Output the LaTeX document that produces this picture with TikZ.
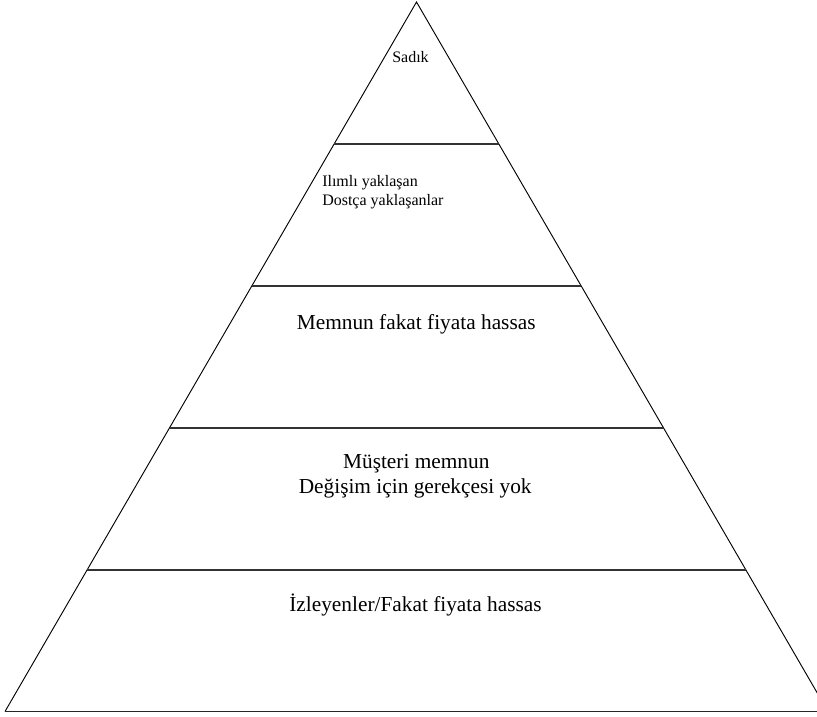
\documentclass[tikz,border=0pt]{standalone}
\usepackage{fontspec}
\setmainfont{Liberation Serif}
\usetikzlibrary{calc}
\begin{document}
\begin{tikzpicture}[x=0.75pt,y=-0.75pt,
  side/.style={line width=0.7pt,black},
  tier/.style={line width=1.5pt,black!80},
  basestyle/.style={line width=1.2pt,black!85},
  small/.style={font=\fontsize{12}{14.25}\selectfont,anchor=base,inner sep=0pt},
  big/.style={font=\fontsize{16}{19.5}\selectfont,anchor=base,inner sep=0pt}]
\useasboundingbox (0,0) rectangle (817,717);
\clip (0,0) rectangle (817,717);
\coordinate (apex) at (416.5,2);
\coordinate (bl) at (5,711.5);
\coordinate (br) at (828,711.5);
\draw[side] (bl) -- (apex) -- (br);
\draw[basestyle] (bl) -- (br);
\foreach \t/\n in {0.2/a,0.4/b,0.6/c,0.8/d}{
  \coordinate (L\n) at ($(apex)!\t!(bl)$);
  \coordinate (R\n) at ($(apex)!\t!(br)$);
  \draw[tier] (L\n) -- (R\n);
}
\node[small] (sadik) at (410.5,63) {Sadık};
\node[small,anchor=base west] (ilimli) at (322,186) {Ilımlı yaklaşan};
\node[small,anchor=base west] (dostca) at (322,205) {Dostça yaklaşanlar};
\node[big] (memnun) at (416.2,329) {Memnun fakat fiyata hassas};
\node[big] (musteri) at (416.3,468) {Müşteri memnun};
\node[big] (degisim) at (415.2,493) {Değişim için gerekçesi yok};
\node[big] (izleyen) at (415.5,611) {İzleyenler/Fakat fiyata hassas};
\end{tikzpicture}
\end{document}
